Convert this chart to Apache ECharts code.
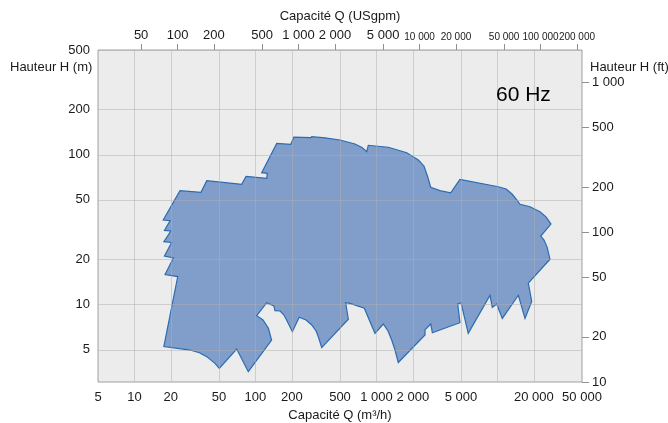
<!DOCTYPE html>
<html><head><meta charset="utf-8">
<script src="https://cdn.jsdelivr.net/npm/echarts@6/dist/echarts.min.js"></script>
<style>html,body{margin:0;padding:0;background:#fff}#c{width:668px;height:423px}</style>
</head><body><div id="c"></div>
<script>
// Performance envelope outline (Q in m3/h, H in m), clockwise from bottom-left
const flowM3h = [17.5,22.8,17.9,21.0,17.7,20.3,17.5,20.0,17.7,19.7,17.3,23.8,35.5,39.6,77,83.6,124,125.4,112.7,150,196,208,288,292,376,500,665,760,831,857,1254,1780,2220,2470,2640,2810,3350,4110,4900,10170,11800,13200,14500,15370,18590,22480,25200,27700,22800,24260,25700,27200,18000,19200,16900,14900,10975,9860,9070,8690,5740,5000,4700,4900,2900,2810,2520,2520,1516,1424,1337,1247,1140,973,794,605,557,586,353,331,317,292,262,230,202,181,172,160,145,142,124,102.5,115.5,128,136,87.3,70,50.3,46.3,39.6,34.4,28.8];
const headM = [5.25,15.4,15.9,20.5,21.1,26.0,26.3,31.0,31.3,36.3,36.7,57.6,56.2,67.1,63.5,71.8,69.7,75.2,75.9,119,117.5,131,130,132,129.8,125.5,118,111.8,104.8,115.7,112.2,103.2,92.3,84.2,72.2,60.7,57.6,55.8,68.6,61.2,59.1,54.7,49.9,46.7,45.0,41.7,38.5,34.5,28.7,27.0,24.3,20.1,13.9,10.5,8.1,11.55,8.1,10.1,9.6,11.55,6.44,10.3,10.1,7.58,6.5,7.43,6.78,6.28,4.11,4.98,5.81,6.67,7.43,6.44,9.46,10.2,10.3,8.0,5.17,6.11,6.67,7.32,7.9,8.24,6.6,7.9,8.53,9.07,9.12,9.8,10.3,8.44,7.9,6.96,5.81,3.57,5.06,3.76,4.06,4.5,4.78,4.98];

const bottomLabels = [5,10,20,50,100,200,500,1000,2000,5000,20000,50000];
const bottomGrid = [10,20,50,100,200,500,1000,2000,5000,10000,20000];
const topLabels = [50,100,200,500,1000,2000,5000,10000,20000,50000,100000,200000];
const leftLabels = [5,10,20,50,100,200,500];
const rightLabels = [10,20,50,100,200,500,1000];

const GPM = 4.402868;   // US gpm per m3/h
const FT = 0.3048;      // m per ft
const L = Math.log10;
const fmt = n => String(n).replace(/\B(?=(\d{3})+(?!\d))/g, ' ');
const FONT = '"Liberation Sans", Arial, sans-serif';
const TXT = '#1a1a1a';
const gridLine = {show:true, lineStyle:{color:'rgba(175,175,175,0.5)', width:1}};

const chart = echarts.init(document.getElementById('c'), null, {renderer:'canvas'});
chart.setOption({
  animation:false,
  textStyle:{fontFamily:FONT},
  title:[
    {text:'Hauteur H (m)', left:10, top:61, padding:0, textStyle:{fontSize:13, fontWeight:'normal', color:TXT, fontFamily:FONT}},
    {text:'Hauteur H (ft)', left:590, top:61, padding:0, textStyle:{fontSize:13, fontWeight:'normal', color:TXT, fontFamily:FONT}},
    {text:'60 Hz', left:496, top:85, padding:0, textStyle:{fontSize:21, fontWeight:'normal', color:'#000', fontFamily:FONT}}
  ],
  grid:{left:98, right:86, top:50, bottom:41, show:true, backgroundColor:'#ececec', borderColor:'#a0a0a0', borderWidth:1, outerBoundsMode:'none', containLabel:false},
  xAxis:[
    {type:'value', position:'bottom', min:L(5), max:L(50000), z:3,
     name:'Capacité Q (m³/h)', nameLocation:'middle', nameGap:25,
     nameTextStyle:{fontSize:13, color:TXT, fontFamily:FONT},
     axisLine:{show:false},
     axisTick:{show:false, customValues:bottomGrid.map(L)},
     axisLabel:{customValues:bottomLabels.map(L), formatter:v=>fmt(Math.round(10**v)), margin:9, fontSize:13, color:TXT, fontFamily:FONT},
     splitLine:gridLine},
    {type:'value', position:'top', min:L(5*GPM), max:L(50000*GPM), z:3,
     name:'Capacité Q (USgpm)', nameLocation:'middle', nameGap:27,
     nameTextStyle:{fontSize:13, color:TXT, fontFamily:FONT},
     axisLine:{show:false},
     axisTick:{show:true, inside:false, length:6, customValues:topLabels.map(L), lineStyle:{color:'#909090'}},
     axisLabel:{customValues:topLabels.map(L), margin:8, fontSize:13, color:TXT, fontFamily:FONT,
       formatter:v=>{const n=Math.round(10**v); const s=fmt(n); return n>=10000?'{s|'+s+'}':s;},
       rich:{s:{fontSize:10, color:TXT, fontFamily:FONT}}},
     splitLine:{show:false}}
  ],
  yAxis:[
    {type:'value', position:'left', min:L(3.048), max:L(500), z:3,
     axisLine:{show:false},
     axisTick:{show:false, customValues:leftLabels.map(L)},
     axisLabel:{customValues:leftLabels.map(L), formatter:v=>fmt(Math.round(10**v)), margin:8, fontSize:13, color:TXT, fontFamily:FONT},
     splitLine:gridLine},
    {type:'value', position:'right', min:L(10), max:L(500/FT), z:3,
     axisLine:{show:false},
     axisTick:{show:true, inside:false, length:7, customValues:rightLabels.map(L), lineStyle:{color:'#909090'}},
     axisLabel:{customValues:rightLabels.map(L), formatter:v=>fmt(Math.round(10**v)), margin:10, fontSize:13, color:TXT, fontFamily:FONT},
     splitLine:{show:false}}
  ],
  series:[{
    type:'custom', xAxisIndex:0, yAxisIndex:0, z:2, silent:true,
    data: flowM3h.map((q,i)=>[L(q), L(headM[i])]),
    renderItem:(params, api)=>{
      if (params.dataIndex !== 0) return null;
      const pts = flowM3h.map((q,i)=>api.coord([L(q), L(headM[i])]));
      return {type:'polygon', shape:{points:pts}, style:{fill:'#819dca', stroke:'#2b6cb0', lineWidth:1.2, lineJoin:'miter'}};
    }
  }]
});
</script></body></html>
